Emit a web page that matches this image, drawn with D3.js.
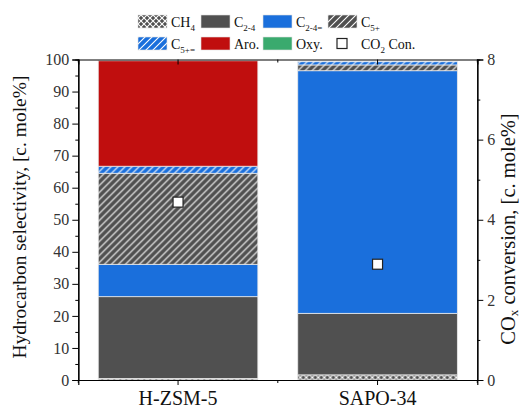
<!DOCTYPE html>
<html>
<head>
<meta charset="utf-8">
<script src="https://cdn.jsdelivr.net/npm/d3@7"></script>
<style>
body { margin: 0; background: #fff; }
text { font-family: "Liberation Serif", "Times New Roman", serif; }
</style>
</head>
<body>
<svg id="chart" width="521" height="408"></svg>
<script>
// data
const catalysts = ["H-ZSM-5", "SAPO-34"];
const groups = ["CH4", "C2-4", "C2-4=", "C5+", "C5+=", "Aro.", "Oxy."];
const ch4   = [0.5, 1.6];
const c24   = [25.5, 19.2];
const c24e  = [10.1, 75.7];
const c5p   = [28.4, 1.8];
const c5pe  = [2.2, 1.0];
const aro   = [32.9, 0];
const oxy   = [0, 0];
const co2_conv = [4.44, 2.89];
const left_ticks = [0, 10, 20, 30, 40, 50, 60, 70, 80, 90, 100];
const right_ticks = [0, 2, 4, 6, 8];

const series = [ch4, c24, c24e, c5p, c5pe, aro, oxy];
const fills = {
    "CH4": "url(#p-cross)",
    "C2-4": "#505050",
    "C2-4=": "#1a6fdc",
    "C5+": "url(#p-hatch-gray)",
    "C5+=": "url(#p-hatch-blue)",
    "Aro.": "#c00e0e",
    "Oxy.": "#3aaa6e"
};
const serif = '"Liberation Serif", "Times New Roman", serif';

const svg = d3.select("#chart");
const margin = {top: 59.5, right: 43.7, bottom: 28, left: 78.3};
const W = 521, H = 408;
const width = W - margin.left - margin.right,
      height = H - margin.top - margin.bottom;

// patterns
const defs = svg.append("defs");
function hatch(id, bg){
    const p = defs.append("pattern")
        .attr("id", id)
        .attr("patternUnits", "userSpaceOnUse")
        .attr("width", 7).attr("height", 7);
    p.append("rect").attr("width", 7).attr("height", 7).attr("fill", bg);
    p.append("path")
        .attr("d", "M-1,1 l2,-2 M0,7 l7,-7 M6,8 l2,-2")
        .attr("stroke", "#fff").attr("stroke-width", 1.1);
}
hatch("p-hatch-gray", "#505050");
hatch("p-hatch-blue", "#1a6fdc");
const pc = defs.append("pattern")
    .attr("id", "p-cross")
    .attr("patternUnits", "userSpaceOnUse")
    .attr("width", 6).attr("height", 6);
pc.append("rect").attr("width", 6).attr("height", 6).attr("fill", "#505050");
pc.append("path")
    .attr("d", "M0,0 L6,6 M6,0 L0,6")
    .attr("stroke", "#fff").attr("stroke-width", 1.1);

const g = svg.append("g")
    .attr("transform", "translate(" + margin.left + "," + margin.top + ")");

const x = d3.scaleBand()
    .domain(catalysts)
    .range([0, width])
    .paddingInner(0.2)
    .paddingOuter(0.1);
const y = d3.scaleLinear().domain([0, 100]).range([height, 0]);
const y2 = d3.scaleLinear().domain([0, 8]).range([height, 0]);

// stacked bars
const table = catalysts.map((c, i) => {
    const row = {cat: c};
    groups.forEach((k, j) => row[k] = series[j][i]);
    return row;
});
const stacked = d3.stack().keys(groups)(table);

g.selectAll(".layer")
    .data(stacked)
    .enter()
    .append("g")
    .attr("class", "layer")
    .attr("fill", d => fills[d.key])
    .selectAll("rect")
    .data(d => d)
    .enter()
    .append("rect")
    .attr("x", d => x(d.data.cat))
    .attr("y", d => y(d[1]))
    .attr("width", x.bandwidth())
    .attr("height", d => Math.max(0, y(d[0]) - y(d[1])))
    .attr("stroke", "#e8e8e8")
    .attr("stroke-width", 0.8);

// CO2 conversion markers
g.selectAll(".conv")
    .data(catalysts)
    .enter()
    .append("rect")
    .attr("class", "conv")
    .attr("x", (d, i) => x(d) + x.bandwidth() / 2 - 5)
    .attr("y", (d, i) => y2(co2_conv[i]) - 5)
    .attr("width", 10).attr("height", 10)
    .attr("fill", "#fff")
    .attr("stroke", "#222")
    .attr("stroke-width", 1.2);

// axes
const tickColor = "#333";
g.append("g")
    .call(d3.axisLeft(y).tickValues(left_ticks).tickSize(6).tickPadding(3));
g.append("g")
    .call(d3.axisLeft(y).tickValues(d3.range(5, 100, 10)).tickSize(3).tickFormat(""));
g.append("g")
    .attr("transform", "translate(" + width + ",0)")
    .call(d3.axisRight(y2).tickValues(right_ticks).tickSize(6).tickPadding(4));
g.append("g")
    .attr("transform", "translate(" + width + ",0)")
    .call(d3.axisRight(y2).tickValues([1, 3, 5, 7]).tickSize(3).tickFormat(""));
g.append("g")
    .attr("class", "xaxis")
    .attr("transform", "translate(0," + height + ")")
    .call(d3.axisBottom(x).tickSize(5).tickPadding(6));
g.append("g")
    .call(d3.axisTop(x).tickSize(-5).tickFormat(""));
// minor ticks between bands
const bounds = [0, width / 2, width];
g.selectAll(".minb").data(bounds).enter().append("line")
    .attr("x1", d => d).attr("x2", d => d)
    .attr("y1", height).attr("y2", height + 3)
    .attr("stroke", "#000");
g.selectAll(".mint").data(bounds).enter().append("line")
    .attr("x1", d => d).attr("x2", d => d)
    .attr("y1", 0).attr("y2", 3)
    .attr("stroke", "#000");

g.selectAll(".domain").attr("stroke", "#000").attr("stroke-width", 1.2);
g.selectAll(".tick line").attr("stroke", "#000");
g.selectAll("g").attr("font-family", serif);
g.selectAll(".tick text")
    .style("font-family", serif)
    .style("font-size", "16px")
    .attr("fill", tickColor);
g.selectAll(".xaxis .tick text")
    .style("font-size", "20px")
    .attr("fill", "#111");

// axis titles
svg.append("text")
    .attr("transform", "translate(22,217) rotate(-90)")
    .attr("text-anchor", "middle")
    .attr("dominant-baseline", "middle")
    .style("font-size", "19.5px")
    .attr("fill", "#111")
    .text("Hydrocarbon selectivity, [c. mole%]");

const rt = svg.append("text")
    .attr("transform", "translate(510,229) rotate(-90)")
    .attr("text-anchor", "middle")
    .attr("dominant-baseline", "middle")
    .style("font-size", "20.5px")
    .attr("fill", "#111");
rt.append("tspan").text("CO");
rt.append("tspan").attr("dy", 5).style("font-size", "13px").text("x");
rt.append("tspan").attr("dy", -5).text(" conversion, [c. mole%]");

// legend
const legend_items = [
    {key: "CH4", main: "CH", sub: "4"},
    {key: "C2-4", main: "C", sub: "2-4"},
    {key: "C2-4=", main: "C", sub: "2-4="},
    {key: "C5+", main: "C", sub: "5+"},
    {key: "C5+=", main: "C", sub: "5+="},
    {key: "Aro.", main: "Aro.", sub: ""},
    {key: "Oxy.", main: "Oxy.", sub: ""},
    {key: "CO2", main: "CO", sub: "2", tail: " Con."}
];
const colX = [138, 201, 263, 328];
const rowY = [15, 37];
const lg = svg.append("g");
legend_items.forEach((it, i) => {
    const cx = colX[i % 4], cy = rowY[Math.floor(i / 4)];
    if (it.key === "CO2"){
        lg.append("rect")
            .attr("x", cx + 9).attr("y", cy + 1.5)
            .attr("width", 10).attr("height", 10)
            .attr("fill", "#fff").attr("stroke", "#222").attr("stroke-width", 1.2);
    } else {
        lg.append("rect")
            .attr("x", cx).attr("y", cy)
            .attr("width", 29).attr("height", 13)
            .attr("fill", fills[it.key])
            .attr("stroke", "#e0e0e0").attr("stroke-width", 0.6);
    }
    const t = lg.append("text")
        .attr("x", cx + 33).attr("y", cy + 11.5)
        .style("font-size", "14px")
        .attr("fill", "#111");
    t.append("tspan").text(it.main);
    if (it.sub){
        t.append("tspan").attr("dy", 4).style("font-size", "9px").text(it.sub);
        if (it.tail) t.append("tspan").attr("dy", -4).text(it.tail);
    }
});
</script>
</body>
</html>
